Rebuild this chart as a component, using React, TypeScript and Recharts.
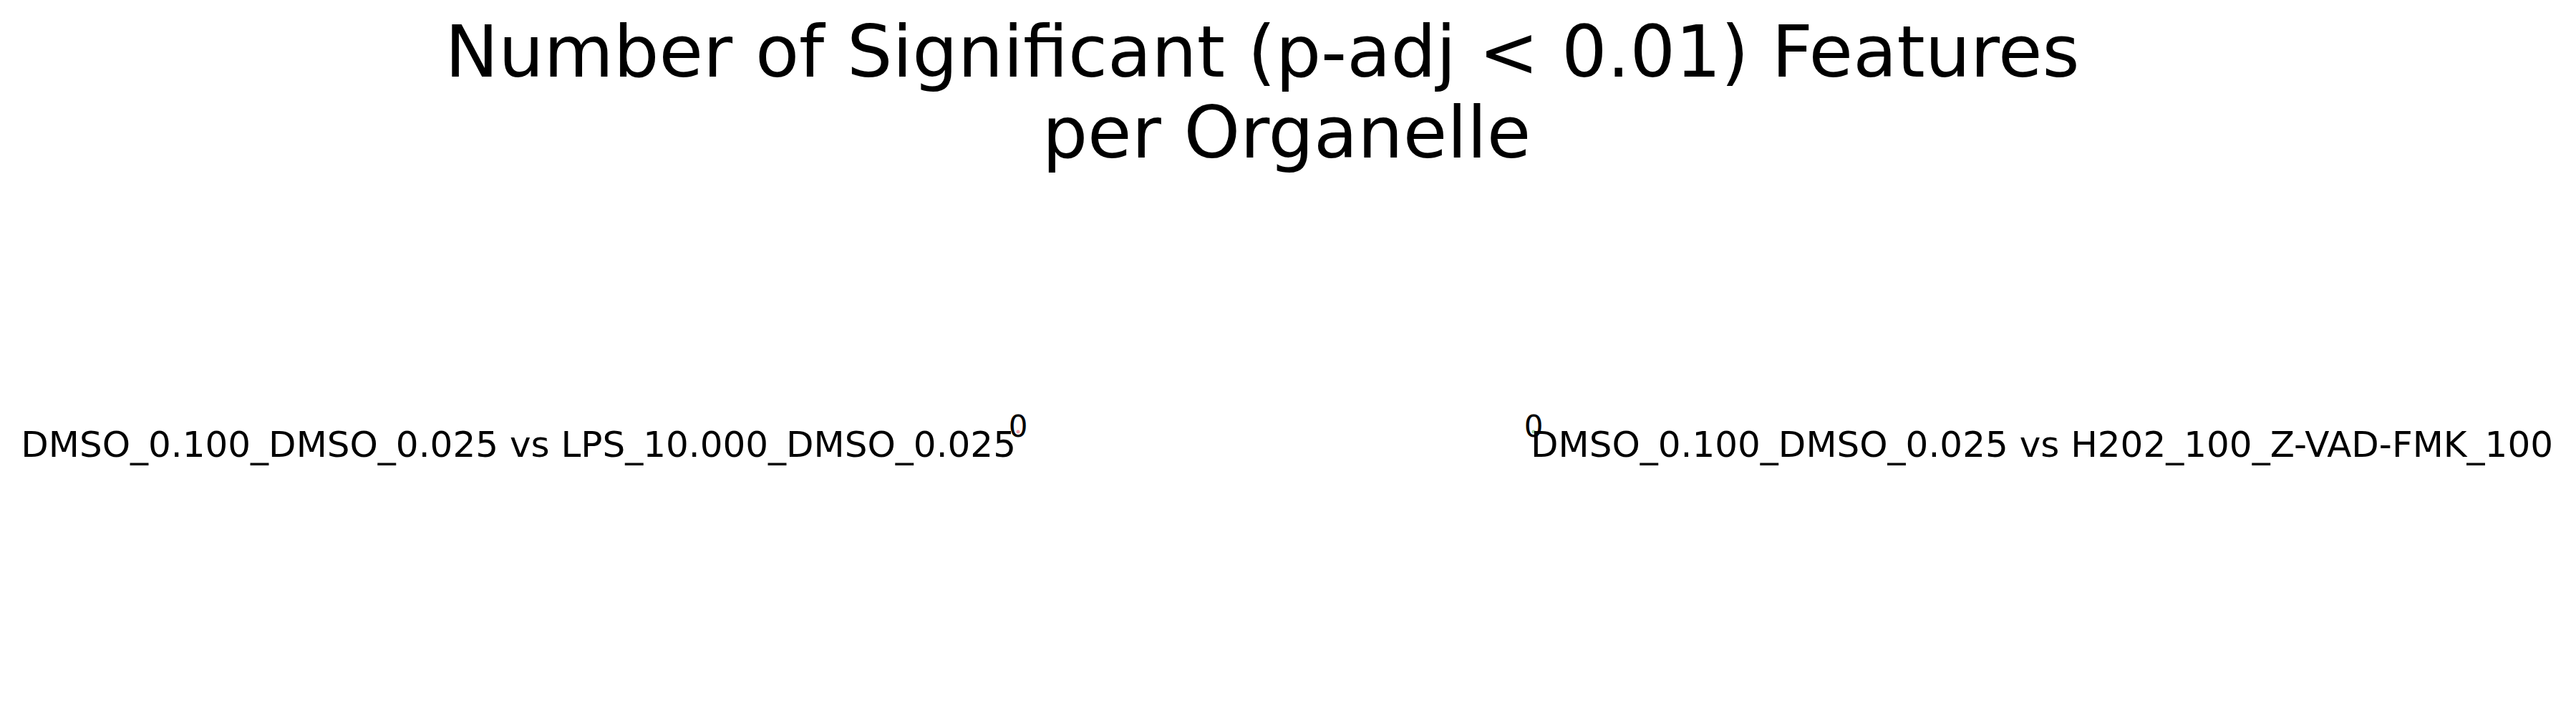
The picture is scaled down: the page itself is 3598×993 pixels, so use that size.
import { BarChart, Bar, XAxis, YAxis, LabelList } from 'recharts'

// one row per organelle group, one comparison per side
const organelles = ['all']
const comparisons = [
    'DMSO_0.100_DMSO_0.025 vs LPS_10.000_DMSO_0.025',
    'DMSO_0.100_DMSO_0.025 vs H202_100_Z-VAD-FMK_100',
]
const lpsCounts = [0]
const h202Counts = [0]
const titleLines = ['Number of Significant (p-adj < 0.01) Features', 'per Organelle']

const FONT = '"DejaVu Sans", sans-serif'

const leftData = organelles.map((name, i) => ({ name, value: lpsCounts[i] }))
const rightData = organelles.map((name, i) => ({ name, value: h202Counts[i] }))

function dotShape(color: string) {
    return (props: any) => {
        const { x, y, width, height } = props
        const w = Math.abs(width || 0)
        const x0 = width < 0 ? x + width : x
        return (
            <g>
                {w > 0 && <rect x={x0} y={y} width={w} height={height} fill={color} />}
                <circle cx={x} cy={y + height / 2 + 4} r={2.5} fill={color} />
            </g>
        )
    }
}

function sideLabel(text: string, side: 'left' | 'right') {
    return (props: any) => {
        const { x, y, height, value } = props
        const cy = y + height / 2
        return (
            <g fontFamily={FONT} fill="#000">
                <text x={x} y={cy + 11} fontSize={42} textAnchor="middle">{value}</text>
                <text
                    x={side === 'left' ? x - 3 : x - 4}
                    y={cy + 39}
                    fontSize={50}
                    textAnchor={side === 'left' ? 'end' : 'start'}
                >
                    {text}
                </text>
            </g>
        )
    }
}

export default function App() {
    return (
        <div style={{ position: 'absolute', left: 0, top: 0, width: 3598, height: 993, background: '#fff', overflow: 'hidden' }}>
            <svg width={3598} height={260} style={{ position: 'absolute', left: 0, top: 0 }}>
                <text x={1763} y={107} fontSize={100} fontFamily={FONT} textAnchor="middle">{titleLines[0]}</text>
                <text x={1797} y={220} fontSize={100} fontFamily={FONT} textAnchor="middle">{titleLines[1]}</text>
            </svg>
            <div style={{ position: 'absolute', left: 0, top: 499 }}>
                <BarChart width={1500} height={200} data={leftData} layout="vertical"
                    margin={{ top: 0, right: 78, left: 0, bottom: 0 }} style={{ overflow: 'visible' }}>
                    <XAxis type="number" domain={[0, 10]} reversed hide />
                    <YAxis type="category" dataKey="name" hide />
                    <Bar dataKey="value" fill="#f2a0a6" barSize={40} isAnimationActive={false} shape={dotShape('#f2a0a6')}>
                        <LabelList dataKey="value" content={sideLabel(comparisons[0], 'left')} />
                    </Bar>
                </BarChart>
            </div>
            <div style={{ position: 'absolute', left: 2060, top: 499 }}>
                <BarChart width={1538} height={200} data={rightData} layout="vertical"
                    margin={{ top: 0, right: 0, left: 82, bottom: 0 }} style={{ overflow: 'visible' }}>
                    <XAxis type="number" domain={[0, 10]} hide />
                    <YAxis type="category" dataKey="name" hide />
                    <Bar dataKey="value" fill="#9fd49f" barSize={40} isAnimationActive={false} shape={dotShape('#9fd49f')}>
                        <LabelList dataKey="value" content={sideLabel(comparisons[1], 'right')} />
                    </Bar>
                </BarChart>
            </div>
        </div>
    )
}
